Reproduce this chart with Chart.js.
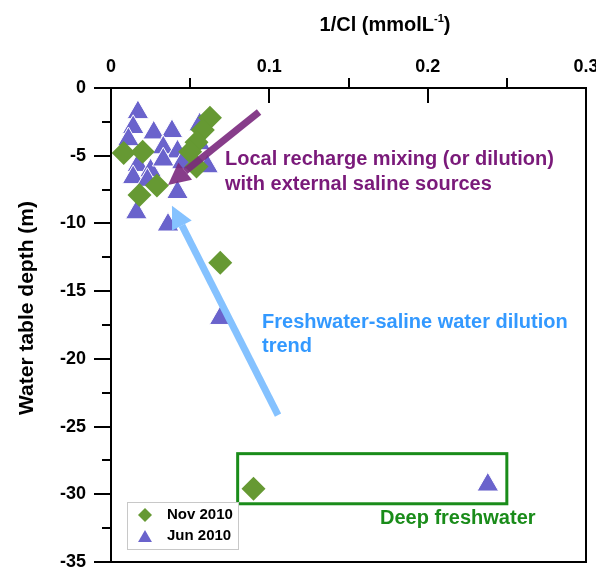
<!DOCTYPE html>
<html>
<head>
<meta charset="utf-8">
<script src="https://cdn.jsdelivr.net/npm/chart.js@4.4.0/dist/chart.umd.min.js"></script>
<style>
  html, body { margin: 0; padding: 0; background: #fff; }
  #wrap { width: 596px; height: 567px; }
</style>
</head>
<body>
<div id="wrap"><canvas id="chart" width="596" height="567"></canvas></div>
<script>
// 1/Cl against water table depth, two sampling rounds

const seriesNames = ['Nov 2010', 'Jun 2010'];

const novX = [0.008, 0.020, 0.018, 0.029, 0.0625, 0.058, 0.054, 0.050, 0.054, 0.069, 0.090];
const novY = [-4.8, -4.7, -7.9, -7.2, -2.2, -3.1, -4.0, -4.7, -5.8, -12.9, -29.6];

const junX = [0.017, 0.014, 0.011, 0.027, 0.0385, 0.033, 0.042, 0.056, 0.017, 0.014,
              0.025, 0.061, 0.042, 0.016, 0.036, 0.033, 0.045, 0.056, 0.023, 0.069, 0.238];
const junY = [-1.8, -2.9, -3.8, -3.3, -3.2, -4.4, -4.7, -2.7, -5.7, -6.6,
              -6.1, -5.8, -7.7, -9.2, -10.1, -5.3, -5.5, -4.1, -6.8, -17.0, -29.3];

const xTickValues = [0, 0.1, 0.2, 0.3];
const xTickLabels = ['0', '0.1', '0.2', '0.3'];
const xMinorTicks = [0.05, 0.15, 0.25];
const yTickValues = [-35, -30, -25, -20, -15, -10, -5, 0];
const yMinorTicks = [-2.5, -7.5, -12.5, -17.5, -22.5, -27.5, -32.5];

// annotations, in data units: [x tail, y tail, x head, y head]
const rechargeArrow = [0.0935, -1.77, 0.036, -7.16];
const dilutionArrow = [0.1055, -24.15, 0.0385, -8.7];
const deepBox = [0.080, -27.0, 0.250, -30.7];

const rechargeText = ['Local recharge mixing (or dilution)', 'with external saline sources'];
const dilutionText = ['Freshwater-saline water dilution', 'trend'];
const deepText = 'Deep freshwater';

const novColor = '#669933';
const junColor = '#6a63cc';

function pts(xs, ys) {
  return xs.map((x, i) => ({ x: x, y: ys[i] }));
}

function arrow(ctx, x1, y1, x2, y2, color) {
  const ang = Math.atan2(y2 - y1, x2 - x1);
  const headLen = 22, headHalf = 11;
  const bx = x2 - Math.cos(ang) * headLen;
  const by = y2 - Math.sin(ang) * headLen;
  ctx.save();
  ctx.strokeStyle = color;
  ctx.fillStyle = color;
  ctx.lineWidth = 7;
  ctx.lineCap = 'butt';
  ctx.beginPath();
  ctx.moveTo(x1, y1);
  ctx.lineTo(bx, by);
  ctx.stroke();
  ctx.beginPath();
  ctx.moveTo(x2, y2);
  ctx.lineTo(bx + Math.sin(ang) * headHalf, by - Math.cos(ang) * headHalf);
  ctx.lineTo(bx - Math.sin(ang) * headHalf, by + Math.cos(ang) * headHalf);
  ctx.closePath();
  ctx.fill();
  ctx.restore();
}

const FONT = '"Liberation Sans", Arial, sans-serif';

const decorations = {
  id: 'decorations',
  afterDatasetsDraw(chart) {
    const ctx = chart.ctx;
    const xs = chart.scales.x, ys = chart.scales.y;
    const px = v => xs.getPixelForValue(v);
    const py = v => ys.getPixelForValue(v);

    // deep freshwater box
    ctx.save();
    ctx.strokeStyle = '#1a8c1a';
    ctx.lineWidth = 3;
    ctx.strokeRect(px(deepBox[0]), py(deepBox[1]), px(deepBox[2]) - px(deepBox[0]), py(deepBox[3]) - py(deepBox[1]));
    ctx.restore();

    arrow(ctx, px(rechargeArrow[0]), py(rechargeArrow[1]), px(rechargeArrow[2]), py(rechargeArrow[3]), 'rgba(122,40,125,0.9)');
    arrow(ctx, px(dilutionArrow[0]), py(dilutionArrow[1]), px(dilutionArrow[2]), py(dilutionArrow[3]), '#85c2ff');

    ctx.save();
    ctx.font = 'bold 20px ' + FONT;
    ctx.textBaseline = 'middle';
    ctx.textAlign = 'left';
    ctx.fillStyle = '#7a1a7a';
    ctx.fillText(rechargeText[0], px(0.072), py(-5.3));
    ctx.fillText(rechargeText[1], px(0.072), py(-7.15));
    ctx.fillStyle = '#3399ff';
    ctx.fillText(dilutionText[0], px(0.0954), py(-17.3));
    ctx.fillText(dilutionText[1], px(0.0954), py(-19.05));
    ctx.fillStyle = '#1a8c1a';
    ctx.textAlign = 'center';
    ctx.fillText(deepText, px(0.219), py(-31.75));
    ctx.restore();
  },
  afterDraw(chart) {
    const ctx = chart.ctx;
    const a = chart.chartArea;
    const xs = chart.scales.x, ys = chart.scales.y;

    // frame and tick marks
    ctx.save();
    ctx.strokeStyle = '#000';
    ctx.lineWidth = 2;
    ctx.strokeRect(a.left, a.top, a.right - a.left, a.bottom - a.top);
    ctx.beginPath();
    yTickValues.forEach(v => {
      const y = Math.round(ys.getPixelForValue(v));
      ctx.moveTo(a.left - 17, y); ctx.lineTo(a.left, y);
    });
    yMinorTicks.forEach(v => {
      const y = Math.round(ys.getPixelForValue(v));
      ctx.moveTo(a.left - 9, y); ctx.lineTo(a.left, y);
    });
    xMinorTicks.forEach(v => {
      const x = Math.round(xs.getPixelForValue(v));
      ctx.moveTo(x, a.top - 10); ctx.lineTo(x, a.top);
    });
    [0.1, 0.2].forEach(v => {
      const x = Math.round(xs.getPixelForValue(v));
      ctx.moveTo(x, a.top); ctx.lineTo(x, a.top + 15);
    });
    ctx.stroke();
    ctx.restore();

    // axis titles
    ctx.save();
    ctx.fillStyle = '#000';
    ctx.textBaseline = 'middle';
    ctx.font = 'bold 20px ' + FONT;
    const t1 = '1/Cl (mmolL', t2 = '-1', t3 = ')';
    const w1 = ctx.measureText(t1).width, w3 = ctx.measureText(t3).width;
    ctx.font = 'bold 11px ' + FONT;
    const w2 = ctx.measureText(t2).width;
    let x0 = 385 - (w1 + w2 + w3) / 2;
    ctx.font = 'bold 20px ' + FONT;
    ctx.textAlign = 'left';
    ctx.fillText(t1, x0, 25);
    ctx.font = 'bold 11px ' + FONT;
    ctx.fillText(t2, x0 + w1, 19);
    ctx.font = 'bold 20px ' + FONT;
    ctx.fillText(t3, x0 + w1 + w2, 25);

    ctx.translate(27, 308);
    ctx.rotate(-Math.PI / 2);
    ctx.textAlign = 'center';
    ctx.font = 'bold 21px ' + FONT;
    ctx.fillText('Water table depth (m)', 0, 0);
    ctx.restore();

    // legend
    const lx = a.left + 16, ly = a.bottom - 60;
    ctx.save();
    ctx.strokeStyle = '#c8c8c8';
    ctx.lineWidth = 1;
    ctx.fillStyle = '#fff';
    ctx.fillRect(lx + 0.5, ly + 0.5, 111, 47);
    ctx.strokeRect(lx + 0.5, ly + 0.5, 111, 47);
    chart.data.datasets.forEach((ds, i) => {
      const cy = ly + 13 + i * 21;
      ctx.fillStyle = ds.backgroundColor;
      ctx.strokeStyle = ds.backgroundColor;
      Chart.helpers.drawPoint(ctx, { pointStyle: ds.pointStyle, radius: i === 0 ? 7 : 8, rotation: 0, borderWidth: 0 }, lx + 18, cy + (i === 1 ? 2 : 0));
      ctx.fillStyle = '#000';
      ctx.font = 'bold 15px ' + FONT;
      ctx.textBaseline = 'middle';
      ctx.textAlign = 'left';
      ctx.fillText(ds.label, lx + 40, cy);
    });
    ctx.restore();
  }
};

chartIt();

function chartIt() {
  const ctx = document.getElementById('chart').getContext('2d');
  const myChart = new Chart(ctx, {
    type: 'scatter',
    data: {
      datasets: [{
        label: seriesNames[0],
        data: pts(novX, novY),
        pointStyle: 'rectRot',
        pointRadius: 12,
        backgroundColor: novColor,
        borderColor: novColor,
        borderWidth: 0
      }, {
        label: seriesNames[1],
        data: pts(junX, junY),
        pointStyle: 'triangle',
        pointRadius: 12.5,
        backgroundColor: junColor,
        borderColor: '#ffffff',
        borderWidth: 1
      }]
    },
    options: {
      responsive: false,
      animation: false,
      devicePixelRatio: 1,
      layout: { autoPadding: false, padding: { left: 0, top: 0, right: 10, bottom: 5 } },
      plugins: {
        legend: { display: false },
        tooltip: { enabled: false }
      },
      scales: {
        x: {
          type: 'linear',
          position: 'top',
          min: 0,
          max: 0.3,
          afterBuildTicks: s => { s.ticks = xTickValues.map(v => ({ value: v })); },
          afterFit: s => { s.height = 88; s.paddingLeft = 0; s.paddingRight = 0; },
          ticks: {
            callback: (v, i) => xTickLabels[i],
            font: { family: FONT, size: 18, weight: 'bold' },
            color: '#000',
            padding: 10,
            maxRotation: 0
          },
          grid: { display: false, drawTicks: false },
          border: { display: false }
        },
        y: {
          type: 'linear',
          min: -35,
          max: 0,
          afterBuildTicks: s => { s.ticks = yTickValues.map(v => ({ value: v })); },
          afterFit: s => { s.width = 111; s.paddingTop = 0; s.paddingBottom = 0; },
          ticks: {
            callback: v => String(v),
            font: { family: FONT, size: 18, weight: 'bold' },
            color: '#000',
            padding: 25
          },
          grid: { display: false, drawTicks: false },
          border: { display: false }
        }
      }
    },
    plugins: [decorations]
  });
}
</script>
</body>
</html>
